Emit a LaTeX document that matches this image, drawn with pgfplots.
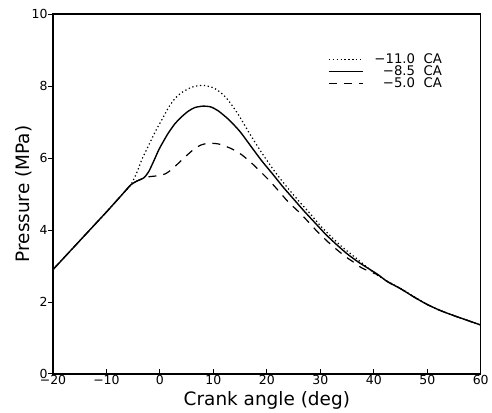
\documentclass[border=0pt]{standalone}
\usepackage{fontspec}
\setmainfont{DejaVu Sans}
\usepackage{pgfplots}
\pgfplotsset{compat=1.18}

\begin{document}
\begin{tikzpicture}
\begin{axis}[
    scale only axis,
    width=429pt,
    height=361pt,
    xmin=-20, xmax=60,
    ymin=0, ymax=10,
    xtick={-20,-10,...,60},
    xticklabels={−20,−10,0,10,20,30,40,50,60},
    ytick={0,2,...,10},
    tick pos=left,
    xtick align=inside,
    ytick align=outside,
    major tick length=5pt,
    tick style={line width=1pt, black},
    axis line style={line width=1.3pt},
    /pgf/number format/assume math mode=true,
    tick label style={font=\fontsize{12.5}{14}\selectfont},
    xticklabel style={yshift=2pt},
    yticklabel style={xshift=3pt},
    label style={font=\fontsize{18.5}{20}\selectfont},
    xlabel={Crank angle (deg)},
    ylabel={Pressure (MPa)},
    ylabel style={yshift=-7pt},
    legend style={at={(0.636,0.902)}, anchor=north west, draw=none, fill=none,
        font=\fontsize{13.3}{14}\selectfont, row sep=-3pt, column sep=9pt,
        cells={anchor=east}},
    legend image code/.code={\draw[#1] (0pt,0pt) -- (34pt,0pt);},
    every axis plot/.append style={smooth, tension=0.4},
]
% -11.0 CA
\addplot[black, line width=1.2pt, dash pattern=on 1.3pt off 2.6pt] coordinates {
 (-20,2.9) (-17.5,3.3) (-15,3.7) (-12.5,4.1) (-10,4.5) (-8,4.83) (-6.5,5.08) (-5.4,5.26)
 (-4.3,5.6) (-3.4,5.95) (-2.5,6.23) (-0.8,6.75) (0.5,7.1) (1.6,7.4) (2.8,7.65) (4.1,7.82)
 (6,7.97) (8,8.02) (10,7.95) (11.5,7.8) (12.8,7.6) (14.7,7.2) (16.6,6.72) (18.5,6.27)
 (20.3,5.87) (22,5.52) (24,5.15) (26,4.8) (28,4.47) (30,4.12) (32,3.82) (34,3.54)
 (36,3.3) (38,3.06) (40,2.81) (42.5,2.58) (45,2.38) (47.5,2.15) (50,1.93) (52.5,1.76)
 (55,1.62) (57.5,1.49) (60,1.36)};
% -8.5 CA
\addplot[black, line width=1.4pt] coordinates {
 (-20,2.9) (-17.5,3.3) (-15,3.7) (-12.5,4.1) (-10,4.5) (-8,4.83) (-6.5,5.08) (-5.4,5.26)
 (-4.3,5.36) (-3,5.45) (-2.1,5.62) (-1.2,5.9) (-0.2,6.23) (0.8,6.5) (1.6,6.7) (2.8,6.95)
 (4.1,7.15) (5.3,7.3) (6.5,7.4) (8,7.44) (9.5,7.42) (11,7.3) (13,7.05) (15,6.73)
 (17,6.33) (19,5.93) (21,5.57) (23,5.2) (25,4.86) (27,4.52) (29,4.2) (31,3.88)
 (33,3.6) (35,3.34) (37,3.12) (39,2.93) (40.8,2.76) (42.5,2.57) (45,2.37) (47.5,2.14)
 (50,1.93) (52.5,1.76) (55,1.62) (57.5,1.49) (60,1.36)};
% -5.0 CA
\addplot[black, line width=1.2pt, dash pattern=on 8pt off 7pt] coordinates {
 (-20,2.9) (-17.5,3.3) (-15,3.7) (-12.5,4.1) (-10,4.5) (-8,4.83) (-6.5,5.08) (-5.4,5.26)
 (-4.3,5.36) (-3,5.44) (-2,5.48) (-0.2,5.51) (1,5.56) (2.2,5.68) (3.5,5.86) (4.8,6.04)
 (6,6.2) (7.5,6.35) (9,6.41) (10.5,6.4) (11.5,6.37) (13.5,6.25) (15.3,6.09) (17,5.88)
 (18.4,5.68) (20.3,5.4) (22,5.12) (24,4.78) (26,4.5) (27.8,4.22) (29.6,3.93) (31.5,3.66)
 (33.2,3.44) (34.9,3.24) (36.3,3.1) (37.6,2.96) (39,2.86) (40.8,2.75) (42.5,2.57)
 (45,2.37) (47.5,2.14) (50,1.93) (52.5,1.76) (55,1.62) (57.5,1.49) (60,1.36)};
\legend{−11.0\ \ CA, −8.5\ \ CA, −5.0\ \ CA}
\end{axis}
% white margin at left and top, as in the reference
\path ([xshift=-12pt]current bounding box.south west) ([yshift=6pt]current bounding box.north east);
\end{tikzpicture}
\end{document}
